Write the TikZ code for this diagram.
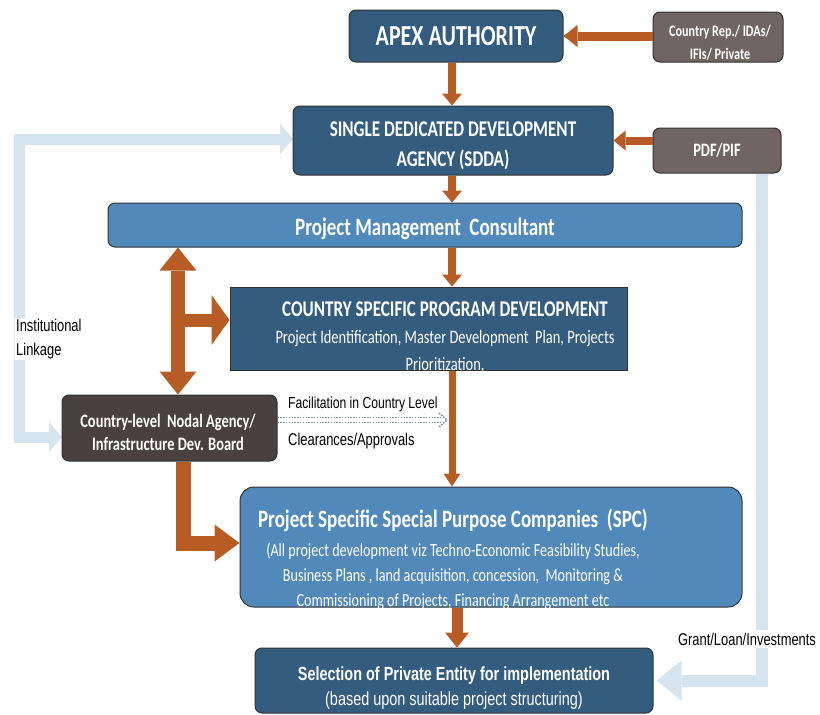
\documentclass[tikz,border=0pt]{standalone}
\usepackage{fontspec}
\setmainfont{Carlito}[FakeStretch=0.76]
\newfontfamily\arialfont{Liberation Sans}[FakeStretch=0.76]
\usetikzlibrary{arrows.meta}

\definecolor{boxdark}{RGB}{52,92,126}
\definecolor{boxlight}{RGB}{80,137,186}
\definecolor{boxgrey}{RGB}{111,101,99}
\definecolor{boxnodal}{RGB}{72,65,64}
\definecolor{arrorange}{RGB}{184,92,37}
\definecolor{linkblue}{RGB}{214,228,239}
\definecolor{dotblue}{RGB}{120,145,170}

\newcommand{\fsz}[2]{\fontsize{#1}{#2}\selectfont}

\tikzset{
  box/.style={draw=black!80, line width=1pt, text=white, align=center,
    rounded corners=7pt, inner sep=2pt},
  darkbox/.style={box, fill=boxdark},
  lightbox/.style={box, fill=boxlight},
  greybox/.style={box, fill=boxgrey},
  nodalbox/.style={box, fill=boxnodal},
  boxtext/.style={text=white, align=center, inner sep=0pt},
  flow/.style={draw=arrorange, line width=8pt,
    -{Triangle[length=12pt,width=20pt,line width=0pt]}},
  bigflow/.style={draw=arrorange, line width=14pt},
  link/.style={draw=linkblue, line width=11pt},
  faclink/.style={draw=dotblue, line width=1.6pt, dash pattern=on 1.5pt off 1.3pt},
  sidetext/.style={font=\arialfont\fsz{17}{24}, text=black, align=left, inner sep=1pt}
}

\begin{document}
\begin{tikzpicture}[x=1pt,y=-1pt]  % ------ development agency set-up --------------
    \useasboundingbox (0,0) rectangle (820,715);

    \coordinate (dblx) at (178,0);
    \coordinate (branch) at (178,320);
    \coordinate (facend) at (445,420);
    \coordinate (midx) at (452,0);

    % pale blue links, behind the boxes
    \draw[link, {Triangle[length=13pt,width=30pt,line width=0pt]}-{Triangle[length=13pt,width=30pt,line width=0pt]}]
      (62,437) -- (19,437) -- (19,139) -- (293,139);
    \node[sidetext, fill=white] (linktext) at (15,339) [anchor=west] {Institutional\\Linkage};

    % boxes
    \node[darkbox, minimum width=214pt, minimum height=52pt, font=\bfseries\fsz{29}{33}] (apex) at (456,36) {APEX AUTHORITY};
    \node[greybox, minimum width=130pt, minimum height=50pt] (ctry) at (718,37) {};
    \node[boxtext, font=\bfseries\fsz{16}{23}] (ctrytext) at (720,43) {Country Rep./ IDAs/\\IFIs/ Private};
    \node[darkbox, minimum width=320pt, minimum height=69pt] (sdda) at (453,140.5) {};
    \node[boxtext, font=\bfseries\fsz{22.5}{30}] (sddatext) at (453,146) {SINGLE DEDICATED DEVELOPMENT\\AGENCY (SDDA)};
    \node[greybox, minimum width=128pt, minimum height=45pt, font=\bfseries\fsz{19}{22}] (pdf) at (717,150.5) {PDF/PIF};
    \node[lightbox, minimum width=634pt, minimum height=44pt] (pmc) at (425,225) {};
    \node[boxtext, font=\bfseries\fsz{25}{28}] (pmctext) at (425,229) {Project Management\ \ Consultant};
    \node[darkbox, sharp corners, minimum width=397pt, minimum height=83pt] (cspd) at (428.5,328.5) {};
    \node[boxtext, font=\fsz{19}{27}] (cspdtext) at (445,337)
      {{\bfseries\fsz{22.5}{27}COUNTRY SPECIFIC PROGRAM DEVELOPMENT}\\Project Identification, Master Development\ \ Plan, Projects\\Prioritization,};
    \node[nodalbox, minimum width=215pt, minimum height=66pt] (nodal) at (169.5,428) {};
    \node[boxtext, font=\bfseries\fsz{19}{23}] (nodaltext) at (168,432) {Country-level\ \ Nodal Agency/\\Infrastructure Dev. Board};
    \node[lightbox, rounded corners=14pt, minimum width=502pt, minimum height=120pt] (spc) at (491,547) {};
    \node[boxtext, font=\fsz{18.6}{25}] (spctext) at (453,559)
      {{\bfseries\fsz{25}{25}Project Specific Special Purpose Companies\ \ (SPC)}\\[4pt](All project development viz Techno-Economic Feasibility Studies,\\Business Plans , land acquisition, concession,\ \ Monitoring \&\\Commissioning of Projects, Financing Arrangement etc};
    \node[darkbox, minimum width=398pt, minimum height=65pt] (sel) at (454,680.5) {};
    \node[boxtext, font=\arialfont\fsz{19}{25}] (seltext) at (454,688)
      {{\bfseries Selection of Private Entity for implementation}\\(based upon suitable project structuring)};

    % grant link from PDF/PIF down to the selection box
    \draw[link, line width=12pt, -{Triangle[length=25pt,width=40pt,line width=0pt]}] ([xshift=45pt]pdf.south) |- ([xshift=3pt]sel.east);
    \node[sidetext, fill=white, inner sep=3pt] (granttext) at (747,639) {Grant/Loan/Investments};

    % orange flows
    \draw[flow, line width=9pt, -{Triangle[length=14pt,width=22pt,line width=0pt]}] (ctry.west |- apex.east) -- (apex.east);
    \draw[flow] (pdf.west |- sdda.east) -- (sdda.east);
    \draw[flow] (apex.south -| midx) -- (sdda.north -| midx);
    \draw[flow] (sdda.south -| midx) -- (pmc.north -| midx);
    \draw[flow] (pmc.south -| midx) -- (cspd.north -| midx);
    \draw[flow, line width=7pt, -{Triangle[length=13pt,width=17pt,line width=0pt]}] (cspd.south -| midx) -- (spc.north -| midx);
    \draw[flow, line width=11pt, -{Triangle[length=15pt,width=24pt,line width=0pt]}] ([xshift=5pt]spc.south -| midx) -- ([xshift=5pt]sel.north -| midx);

    \draw[bigflow, {Triangle[length=23pt,width=37pt,line width=0pt]}-{Triangle[length=23pt,width=37pt,line width=0pt]}]
      (pmc.south -| dblx) -- (nodal.north -| dblx);
    \draw[bigflow, line width=13pt, -{Triangle[length=18pt,width=50pt,line width=0pt]}] (branch) -- (branch -| cspd.west);
    \draw[bigflow, line width=15pt, -{Triangle[length=25pt,width=37pt,line width=0pt]}] ([xshift=14pt]nodal.south) |- ([yshift=4pt]spc.west);

    % facilitation in country level
    \draw[faclink] ([yshift=2.5pt]nodal.east |- facend) -- ([yshift=2.5pt]facend);
    \draw[faclink] ([yshift=-2.5pt]nodal.east |- facend) -- ([yshift=-2.5pt]facend);
    \draw[faclink] ([shift={(-6pt,7pt)}]facend) -- ([xshift=2pt]facend) -- ([shift={(-6pt,-7pt)}]facend);
    \node[sidetext, font=\arialfont\fsz{16}{20}] (factext) at (287,404) [anchor=west] {Facilitation in Country Level};
    \node[sidetext, font=\arialfont\fsz{17}{20}] (cleartext) at (287,441) [anchor=west] {Clearances/Approvals};
\end{tikzpicture}
\end{document}
